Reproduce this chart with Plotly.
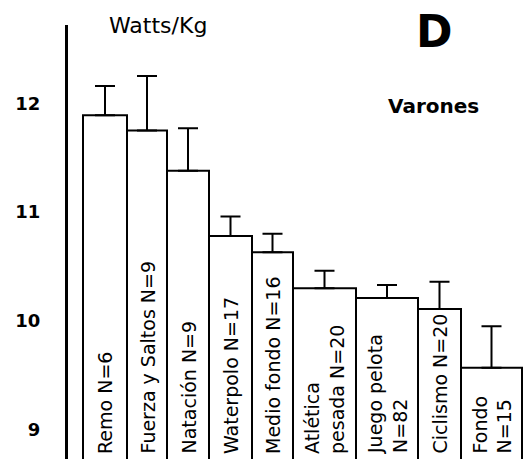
import numpy as np
import plotly.graph_objects as go

# ---- data ----
categories = ["Remo N=6", "Fuerza y Saltos N=9", "Natación N=9", "Waterpolo N=17",
              "Medio fondo N=16", "Atlética<br>pesada N=20", "Juego pelota<br>N=82",
              "Ciclismo N=20", "Fondo<br>N=15"]
values = [11.89, 11.75, 11.38, 10.78, 10.63, 10.30, 10.21, 10.11, 9.57]
errors = [0.27, 0.50, 0.39, 0.18, 0.17, 0.16, 0.12, 0.25, 0.38]
y_ticks = [9, 10, 11, 12]

# ---- style (bar widths in axis units) ----
bar_widths = [44, 40, 42, 43, 41, 63, 62, 43, 61]
start_offset = 15
lefts = start_offset + np.concatenate([[0], np.cumsum(bar_widths)[:-1]])
centers = lefts + np.array(bar_widths) / 2.0

FONT = "DejaVu Sans"
y_min, y_max = 8.73, 12.72
base_val = 8.70

fig = go.Figure()
fig.add_trace(go.Bar(
    x=centers,
    y=[v - base_val for v in values],
    base=base_val,
    width=bar_widths,
    marker=dict(color="white", line=dict(color="black", width=2)),
    error_y=dict(type="data", symmetric=False, array=errors,
                 arrayminus=[0] * len(errors), color="black",
                 thickness=2, width=10),
    hoverinfo="skip",
))

annotations = [
    dict(text="Watts/Kg", x=0.195, y=1.0, xref="paper", yref="paper",
         xanchor="center", yanchor="middle", showarrow=False,
         font=dict(family=FONT, size=22, color="black")),
    dict(text="<b>D</b>", x=0.794, y=0.986, xref="paper", yref="paper",
         xanchor="center", yanchor="middle", showarrow=False,
         font=dict(family=FONT, size=44, color="black")),
    dict(text="<b>Varones</b>", x=0.792, y=0.813, xref="paper", yref="paper",
         xanchor="center", yanchor="middle", showarrow=False,
         font=dict(family=FONT, size=20, color="black")),
]
for cx, lab in zip(centers, categories):
    annotations.append(dict(
        text=lab, x=cx, y=y_min, xref="x", yref="y",
        xanchor="center", yanchor="bottom", yshift=3,
        textangle=-90, align="left", showarrow=False,
        font=dict(family=FONT, size=19, color="black")))

fig.update_layout(
    width=530, height=459, autosize=False,
    margin=dict(l=68, r=0, t=25, b=0),
    paper_bgcolor="white", plot_bgcolor="white",
    showlegend=False,
    xaxis=dict(range=[0, 462], visible=False, fixedrange=True),
    yaxis=dict(range=[y_min, y_max], tickvals=y_ticks,
               ticktext=[str(t) for t in y_ticks],
               showgrid=False, zeroline=False, ticks="",
               showline=True, linecolor="black", linewidth=3,
               ticklabelstandoff=21,
               tickfont=dict(family=FONT, size=18, color="black", weight="bold")),
    annotations=annotations,
)

fig.write_html("out.html")
